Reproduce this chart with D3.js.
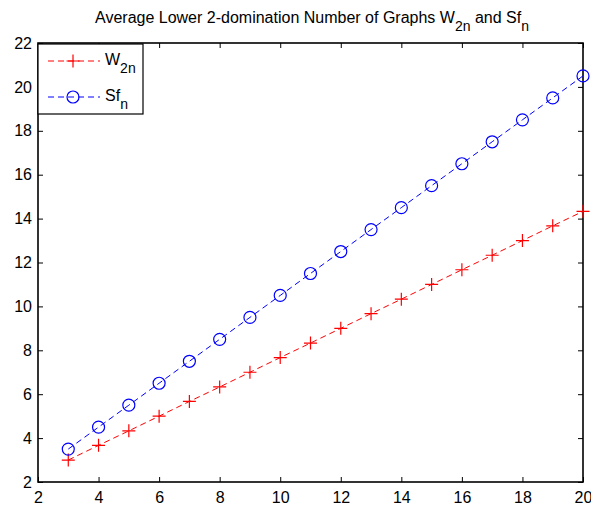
<!DOCTYPE html>
<html>
<head>
<meta charset="utf-8">
<script src="https://cdn.jsdelivr.net/npm/d3@7"></script>
<style>
  body { margin: 0; background: #fff; }
  text { font-family: Arial, "Liberation Sans", sans-serif; }
</style>
</head>
<body>
<svg id="chart" width="591" height="506"></svg>
<script>
const nValues = [3, 4, 5, 6, 7, 8, 9, 10, 11, 12, 13, 14, 15, 16, 17, 18, 19, 20];
const w2nValues = [3, 3.67, 4.33, 5, 5.67, 6.33, 7, 7.67, 8.33, 9, 9.67, 10.33, 11, 11.67, 12.33, 13, 13.67, 14.33];
const sfnValues = [3.5, 4.5, 5.5, 6.5, 7.5, 8.5, 9.5, 10.5, 11.5, 12.5, 13.5, 14.5, 15.5, 16.5, 17.5, 18.5, 19.5, 20.5];
const xTicks = [2, 4, 6, 8, 10, 12, 14, 16, 18, 20];
const yTicks = [2, 4, 6, 8, 10, 12, 14, 16, 18, 20, 22];

const m = { left: 38, right: 583, top: 43, bottom: 482 };
const svg = d3.select('#chart');

const x = d3.scaleLinear().domain([2, 20]).range([m.left, m.right]);
const y = d3.scaleLinear().domain([2, 22]).range([m.bottom, m.top]);

// title with subscripts
const title = svg.append('text')
   .attr('x', 312).attr('y', 23)
   .attr('text-anchor', 'middle')
   .style('font-size', '16px');
title.append('tspan').text('Average Lower 2-domination Number of Graphs W');
title.append('tspan').attr('dy', 8).style('font-size', '14px').text('2n');
title.append('tspan').attr('dy', -8).text(' and Sf');
title.append('tspan').attr('dy', 8).style('font-size', '14px').text('n');

// axes, ticks pointing inward (also mirrored on top and right)
const tickLen = 5;
const axisStyle = g => {
   g.select('.domain').remove();
   g.selectAll('text').style('font-size', '16px').attr('fill', '#000');
   g.selectAll('line').attr('stroke', '#000');
};
svg.append('g').attr('transform', `translate(0,${m.bottom})`)
   .call(d3.axisBottom(x).tickValues(xTicks).tickSize(-tickLen).tickPadding(10))
   .call(axisStyle);
svg.append('g').attr('transform', `translate(${m.left},0)`)
   .call(d3.axisLeft(y).tickValues(yTicks).tickSize(-tickLen).tickPadding(6))
   .call(axisStyle);
svg.append('g').attr('transform', `translate(0,${m.top})`)
   .call(d3.axisTop(x).tickValues(xTicks).tickSize(-tickLen).tickFormat(''))
   .call(axisStyle);
svg.append('g').attr('transform', `translate(${m.right},0)`)
   .call(d3.axisRight(y).tickValues(yTicks).tickSize(-tickLen).tickFormat(''))
   .call(axisStyle);

svg.append('rect')
   .attr('x', m.left).attr('y', m.top)
   .attr('width', m.right - m.left).attr('height', m.bottom - m.top)
   .attr('fill', 'none').attr('stroke', '#000').attr('stroke-width', 1.6);

const series = [
   { name: 'W', sub: '2n', values: w2nValues, color: '#ff0000', marker: 'plus' },
   { name: 'Sf', sub: 'n', values: sfnValues, color: '#0000ff', marker: 'circle' }
];

const line = d3.line().x((d, i) => x(nValues[i])).y(d => y(d));

function drawMarker(g, kind, cx, cy, color) {
   if (kind === 'plus') {
      g.append('path')
         .attr('d', `M${cx - 6.5},${cy}H${cx + 6.5}M${cx},${cy - 6.5}V${cy + 6.5}`)
         .attr('stroke', color).attr('stroke-width', 1.2).attr('fill', 'none');
   } else {
      g.append('circle').attr('cx', cx).attr('cy', cy).attr('r', 6)
         .attr('stroke', color).attr('stroke-width', 1.2).attr('fill', 'none');
   }
}

series.forEach(s => {
   const g = svg.append('g');
   g.append('path')
      .attr('d', line(s.values))
      .attr('fill', 'none').attr('stroke', s.color).attr('stroke-width', 1)
      .attr('stroke-dasharray', '6,4');
   s.values.forEach((v, i) => drawMarker(g, s.marker, x(nValues[i]), y(v), s.color));
});

// legend
const lg = svg.append('g');
lg.append('rect')
   .attr('x', m.left).attr('y', m.top + 1)
   .attr('width', 105).attr('height', 70)
   .attr('fill', '#fff').attr('stroke', '#000').attr('stroke-width', 1.2);
series.forEach((s, i) => {
   const ly = 61 + i * 36;
   lg.append('line').attr('x1', 48).attr('x2', 100).attr('y1', ly).attr('y2', ly)
      .attr('stroke', s.color).attr('stroke-dasharray', '6,4');
   drawMarker(lg, s.marker, 73, ly, s.color);
   const t = lg.append('text').attr('x', 105).attr('y', ly + 4).style('font-size', '16px');
   t.append('tspan').text(s.name);
   t.append('tspan').attr('dy', 8).style('font-size', '14px').text(s.sub);
});
</script>
</body>
</html>
